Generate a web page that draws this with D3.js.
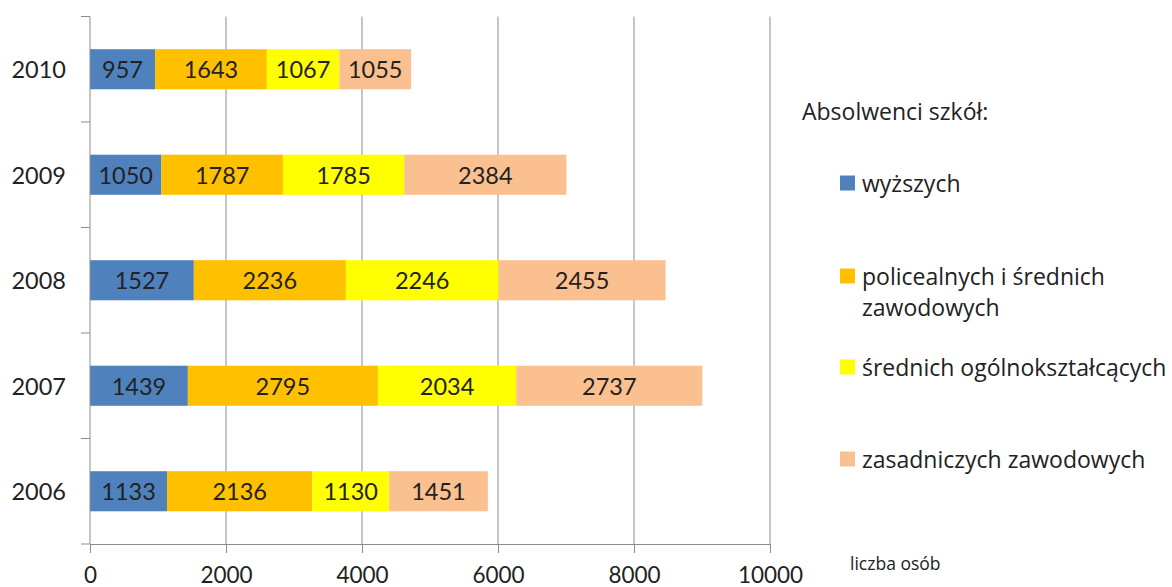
<!DOCTYPE html>
<html>
<head>
<meta charset="utf-8">
<script src="https://cdn.jsdelivr.net/npm/d3@7"></script>
<style>
  html, body { margin: 0; padding: 0; background: #fff; }
  svg { display: block; }
  text { font-family: Lato, "Open Sans", sans-serif; fill: #222; }
  .legend text, .unit { font-family: "Open Sans", Lato, sans-serif; }
</style>
</head>
<body>
<svg id="chart" width="1172" height="587"></svg>
<script>
// Absolwenci szkół w latach 2006–2010 (liczba osób)
const years = ["2010", "2009", "2008", "2007", "2006"];
const seriesNames = [
  "wyższych",
  "policealnych i średnich zawodowych",
  "średnich ogólnokształcących",
  "zasadniczych zawodowych"
];
const wyzszych        = [957, 1050, 1527, 1439, 1133];
const policealnych    = [1643, 1787, 2236, 2795, 2136];
const ogolnoksztalc   = [1067, 1785, 2246, 2034, 1130];
const zasadniczych    = [1055, 2384, 2455, 2737, 1451];
const xTicks = [0, 2000, 4000, 6000, 8000, 10000];
const colors = ["#4F81BD", "#FFC000", "#FFFF00", "#FAC090"];

const rows = years.map((y, i) => ({
  year: y,
  s0: wyzszych[i], s1: policealnych[i], s2: ogolnoksztalc[i], s3: zasadniczych[i]
}));
const keys = ["s0", "s1", "s2", "s3"];
const stacked = d3.stack().keys(keys)(rows);

const svg = d3.select("#chart");
const plotLeft = 90, plotRight = 770, plotTop = 16.5, plotBottom = 544;

const x = d3.scaleLinear().domain([0, 10000]).range([plotLeft, plotRight]);
const y = d3.scaleBand().domain(years).range([plotTop, plotBottom]).paddingInner(0.62).paddingOuter(0.31);

// vertical gridlines
svg.append("g")
  .selectAll("line")
  .data(xTicks.slice(1))
  .join("line")
  .attr("x1", d => x(d)).attr("x2", d => x(d))
  .attr("y1", plotTop).attr("y2", plotBottom)
  .attr("stroke", "#8c8c8c").attr("stroke-width", 1);

// stacked bars
const layers = svg.append("g")
  .selectAll("g")
  .data(stacked)
  .join("g")
  .attr("fill", (d, i) => colors[i]);

layers.selectAll("rect")
  .data(d => d)
  .join("rect")
  .attr("x", d => x(d[0]))
  .attr("width", d => x(d[1]) - x(d[0]))
  .attr("y", d => y(d.data.year))
  .attr("height", y.bandwidth());

// value labels in the middle of each segment
layers.selectAll("text")
  .data(d => d.map(v => ({ v, key: d.key })))
  .join("text")
  .attr("x", d => (x(d.v[0]) + x(d.v[1])) / 2)
  .attr("y", d => y(d.v.data.year) + y.bandwidth() / 2)
  .attr("text-anchor", "middle")
  .attr("dominant-baseline", "central")
  .attr("font-size", 23.5)
  .attr("fill", "#1a1a1a")
  .text(d => d.v.data[d.key]);

// x axis
const xAxis = svg.append("g")
  .attr("transform", `translate(0,${plotBottom})`)
  .call(d3.axisBottom(x).tickValues(xTicks).tickSize(9).tickPadding(14).tickFormat(d3.format("d")));
xAxis.select(".domain").attr("stroke", "#8c8c8c");
xAxis.selectAll(".tick line").attr("stroke", "#8c8c8c");
xAxis.selectAll(".tick text").attr("font-size", 22.5).attr("fill", "#222")
  .attr("font-family", "Lato, 'Open Sans', sans-serif");

// y axis: ticks sit on category boundaries
const bounds = d3.range(years.length + 1).map(i => plotTop + i * (plotBottom - plotTop) / years.length);
const yAxisG = svg.append("g");
yAxisG.append("line")
  .attr("x1", plotLeft).attr("x2", plotLeft).attr("y1", plotTop).attr("y2", plotBottom)
  .attr("stroke", "#8c8c8c");
yAxisG.selectAll("line.tick")
  .data(bounds)
  .join("line")
  .attr("class", "tick")
  .attr("x1", plotLeft - 9).attr("x2", plotLeft)
  .attr("y1", d => d).attr("y2", d => d)
  .attr("stroke", "#8c8c8c");
yAxisG.selectAll("text")
  .data(years)
  .join("text")
  .attr("x", 66)
  .attr("y", d => y(d) + y.bandwidth() / 2)
  .attr("text-anchor", "end")
  .attr("dominant-baseline", "central")
  .attr("font-size", 23.5)
  .text(d => d);

// axis unit
svg.append("text")
  .attr("class", "unit")
  .attr("x", 850).attr("y", 563)
  .attr("dominant-baseline", "central")
  .attr("font-size", 17.5)
  .text("liczba osób");

// legend
const legend = svg.append("g").attr("class", "legend");
legend.append("text")
  .attr("x", 802).attr("y", 111)
  .attr("dominant-baseline", "central")
  .attr("font-size", 23)
  .text("Absolwenci szkół:");

const legendRows = [
  { lines: ["wyższych"], y: 183 },
  { lines: ["policealnych i średnich", "zawodowych"], y: 276 },
  { lines: ["średnich ogólnokształcących"], y: 367 },
  { lines: ["zasadniczych zawodowych"], y: 459 }
];
legendRows.forEach((r, i) => {
  legend.append("rect")
    .attr("x", 840).attr("y", r.y - 7.5)
    .attr("width", 15).attr("height", 15)
    .attr("fill", colors[i]);
  const t = legend.append("text")
    .attr("x", 862).attr("y", r.y)
    .attr("dominant-baseline", "central")
    .attr("font-size", 23);
  r.lines.forEach((ln, j) => {
    t.append("tspan").attr("x", 862).attr("dy", j === 0 ? 0 : 31).text(ln);
  });
});
</script>
</body>
</html>
